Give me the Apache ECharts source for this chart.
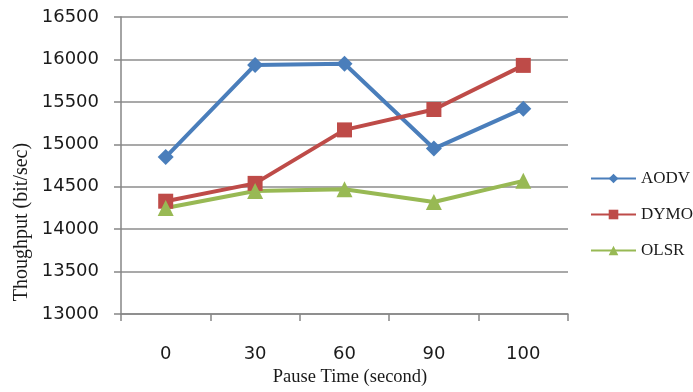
<!DOCTYPE html>
<html>
<head>
<meta charset="utf-8">
<script src="https://cdn.jsdelivr.net/npm/echarts@6/dist/echarts.min.js"></script>
<style>html,body{margin:0;padding:0;background:#fff}#c{width:693px;height:392px}</style>
</head>
<body>
<div id="c"></div>
<script>
var categories = ['0', '30', '60', '90', '100'];
var aodv = [14850, 15935, 15950, 14950, 15420];
var dymo = [14330, 14540, 15170, 15410, 15930];
var olsr = [14250, 14450, 14470, 14320, 14570];
var yMin = 13000, yMax = 16500, yStep = 500;

var chart = echarts.init(document.getElementById('c'), null, {renderer: 'canvas'});
function mk(name, data, color, symbol, size) {
  return {
    name: name, type: 'line', data: data,
    symbol: symbol, symbolSize: size,
    lineStyle: {color: color, width: 4},
    itemStyle: {color: color},
    color: color,
    emphasis: {disabled: true},
    animation: false
  };
}
chart.setOption({
  animation: false,
  grid: {left: 121, right: 125, top: 17, bottom: 72},
  legend: {
    orient: 'vertical', left: 585, top: 165,
    itemWidth: 45, itemHeight: 12, itemGap: 19,
    lineStyle: {width: 2},
    textStyle: {fontFamily: 'Liberation Serif', fontSize: 17, color: '#1a1a1a'},
    data: ['AODV', 'DYMO', 'OLSR']
  },
  xAxis: {
    type: 'category', data: categories, boundaryGap: true,
    axisLine: {lineStyle: {color: '#868686', width: 1.5}},
    axisTick: {show: true, length: 7, lineStyle: {color: '#868686', width: 1.5}},
    axisLabel: {margin: 31, fontFamily: 'DejaVu Sans', fontSize: 18, color: '#1a1a1a'},
    name: 'Pause Time (second)', nameLocation: 'middle', nameGap: 53,
    nameTextStyle: {fontFamily: 'Liberation Serif', fontSize: 18.5, color: '#1a1a1a', padding: [0, 0, 0, 11]}
  },
  yAxis: {
    type: 'value', min: yMin, max: yMax, interval: yStep,
    axisLine: {show: true, lineStyle: {color: '#868686', width: 1.5}},
    axisTick: {show: true, length: 7, lineStyle: {color: '#868686', width: 1.5}},
    axisLabel: {margin: 22, fontFamily: 'DejaVu Sans', fontSize: 18, color: '#1a1a1a',
      formatter: function (v) { return String(v); }},
    splitLine: {lineStyle: {color: '#8c8c8c', width: 1.5}}
  },
  graphic: [{
    type: 'text', x: 22, y: 222, rotation: Math.PI / 2,
    style: {text: 'Thoughput (bit/sec)', font: '20px "Liberation Serif"', fill: '#1a1a1a',
      textAlign: 'center', textVerticalAlign: 'middle'}
  }],
  series: [
    mk('AODV', aodv, '#4a7ebb', 'diamond', 16),
    mk('DYMO', dymo, '#be4b48', 'rect', 15),
    mk('OLSR', olsr, '#98b954', 'triangle', 16)
  ]
});
</script>
</body>
</html>
